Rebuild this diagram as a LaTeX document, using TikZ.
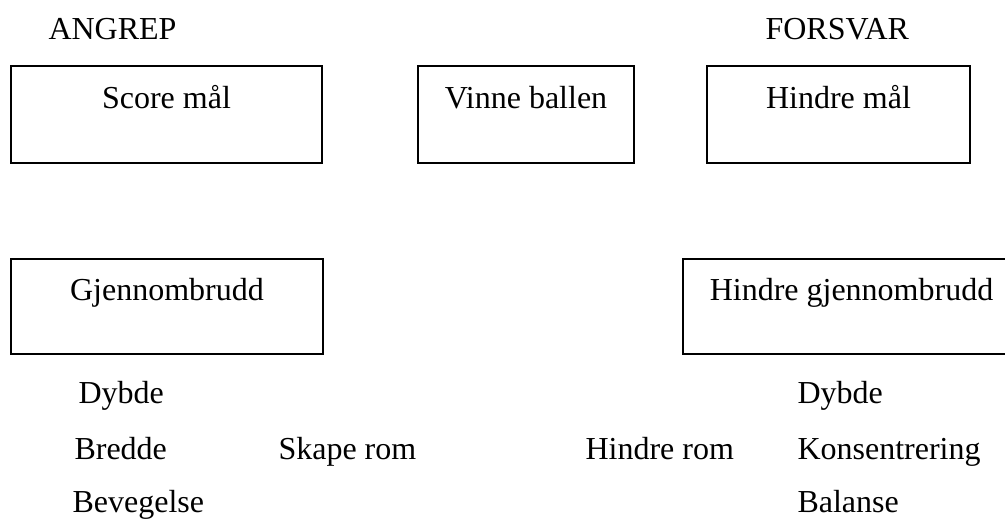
\documentclass[tikz,border=0pt]{standalone}
\usepackage{fontspec}
\setmainfont{Liberation Serif}
\begin{document}
\begin{tikzpicture}[x=0.375pt,y=-0.375pt,
  every node/.style={font=\fontsize{12}{14}\selectfont, inner sep=0pt},
  goalbox/.style={draw=black, line width=0.7pt},
  lbl/.style={anchor=base west}]
  \useasboundingbox (0,0) rectangle (1005,519);
  % headings
  \node[lbl] (angrep) at (48,39) {ANGREP};
  \node[lbl] (forsvar) at (765,39) {FORSVAR};
  % top row of boxes
  \draw[goalbox] (11,66) rectangle (322,163);
  \node (scorebox) at (166.5,114.5) {};
  \node[anchor=base] (score) at (166.5,108) {Score mål};
  \draw[goalbox] (418,66) rectangle (634,163);
  \node (vinnebox) at (526,114.5) {};
  \node[anchor=base] (vinne) at (526,108) {Vinne ballen};
  \draw[goalbox] (707,66) rectangle (970,163);
  \node (hindrebox) at (838.5,114.5) {};
  \node[anchor=base] (hindre) at (838.5,108) {Hindre mål};
  % second row of boxes
  \draw[goalbox] (11,259) rectangle (323,354);
  \node (gjbox) at (167,306) {};
  \node[anchor=base] (gj) at (167,300) {Gjennombrudd};
  \draw[goalbox] (683,259) rectangle (1020,354);
  \node (hgjbox) at (851.5,306) {};
  \node[anchor=base] (hgj) at (851.5,300) {Hindre gjennombrudd};
  % principles, attack side
  \node[lbl] (dybdeA) at (78,403) {Dybde};
  \node[lbl] (bredde) at (74,459) {Bredde};
  \node[lbl] (bevegelse) at (72,512) {Bevegelse};
  \node[lbl] (skape) at (278,459) {Skape rom};
  % principles, defence side
  \node[lbl] (hindrerom) at (585,459) {Hindre rom};
  \node[lbl] (dybdeF) at (797,403) {Dybde};
  \node[lbl] (konsentrering) at (797,459) {Konsentrering};
  \node[lbl] (balanse) at (797,512) {Balanse};
\end{tikzpicture}
\end{document}
